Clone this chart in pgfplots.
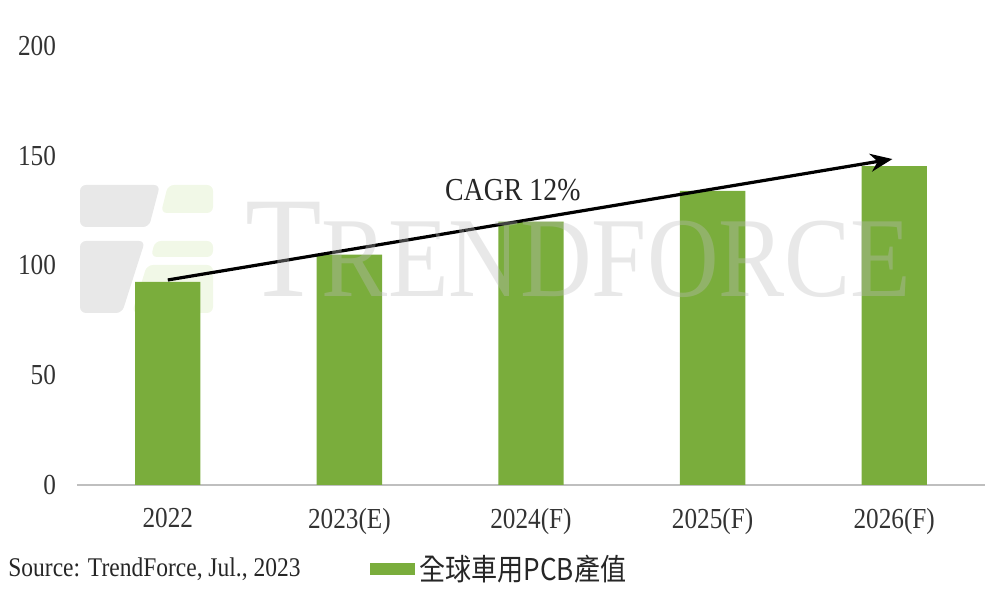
\documentclass[border=0pt]{standalone}
\usepackage{fontspec}
\setmainfont{Liberation Serif}[FakeStretch=0.87]
\newfontfamily\cjk{Noto Sans CJK TC}[FakeStretch=0.87]
\usepackage{pgfplots}
\pgfplotsset{compat=1.18}
\usetikzlibrary{arrows.meta}
\definecolor{barg}{RGB}{122,173,60}
\definecolor{wm}{RGB}{190,190,190}
\definecolor{wmg}{RGB}{215,235,185}
\begin{document}
\begin{tikzpicture}
\useasboundingbox (-38.5pt,-54pt) rectangle (461.5pt,242.5pt);
% logo watermark (under bars)
\begin{scope}[fill opacity=0.35, rounded corners=3pt]
\fill[wm] (1.5pt,150pt) -- (41.5pt,150pt) -- (36pt,129pt) -- (1.5pt,129pt) -- cycle;
\fill[wm] (1.5pt,122pt) -- (34pt,122pt) -- (22.5pt,86pt) -- (1.5pt,86pt) -- cycle;
\fill[wmg] (45.5pt,150pt) -- (68pt,150pt) -- (68pt,136pt) -- (42pt,136pt) -- cycle;
\fill[wmg] (39pt,122pt) -- (68pt,122pt) -- (68pt,114pt) -- (37pt,114pt) -- cycle;
\fill[wmg] (35pt,110pt) -- (68pt,110pt) -- (68pt,86pt) -- (27.5pt,86pt) -- cycle;
\end{scope}
\begin{axis}[
  at={(0,0)}, anchor=south west,
  scale only axis, width=454pt, height=219.5pt,
  xmin=-0.5, xmax=4.5, ymin=0, ymax=200,
  axis y line*=left, axis x line*=bottom,
  y axis line style={draw=none},
  x axis line style={draw=black!25, line width=1pt},
  major tick length=0pt,
  ytick={0,50,100,150,200},
  xtick=data,
  xticklabels={2022,2023(E),2024(F),2025(F),2026(F)},
  tick label style={font=\fontsize{14.5}{16}\selectfont, text=black!80},
  /pgf/number format/assume math mode=true,
  yticklabel style={xshift=-7pt},
  xticklabel style={yshift=-8pt},
  legend style={at={(0.3227,-0.191)}, anchor=west, draw=none, fill=none,
    inner sep=0pt, font=\cjk\fontsize{15}{16}\selectfont, text=black!85},
  legend image code/.code={\fill[#1] (0pt,-3pt) rectangle (22.5pt,3pt);},
  clip=false,
]
\addplot[ybar, bar width=0.36, fill=barg, draw=none] coordinates {
  (0,92.5) (1,105) (2,120) (3,134) (4,145.3)
};
\addlegendentry{全球車用PCB產值}
\draw[-{Stealth[length=11pt,width=9pt]}, line width=1.6pt] (axis cs:0,93.4) -- (axis cs:3.99,148.5);
\node[font=\fontsize{16}{18}\selectfont, text=black!85] at (axis cs:1.9,134.4) {CAGR 12\%};
\end{axis}
% text watermark (on top, translucent)
\begin{scope}[text opacity=0.35]
\node[anchor=base west, inner sep=0pt, text=wm] at (84pt,94pt)
  {\fontsize{72}{72}\selectfont T\fontsize{57}{57}\selectfont RENDFORCE};
\end{scope}
\node[anchor=west, inner sep=0pt, font=\fontsize{13.5}{15}\selectfont, text=black!85] at (-34.5pt,-42pt) {Source: TrendForce, Jul., 2023};
\end{tikzpicture}
\end{document}
